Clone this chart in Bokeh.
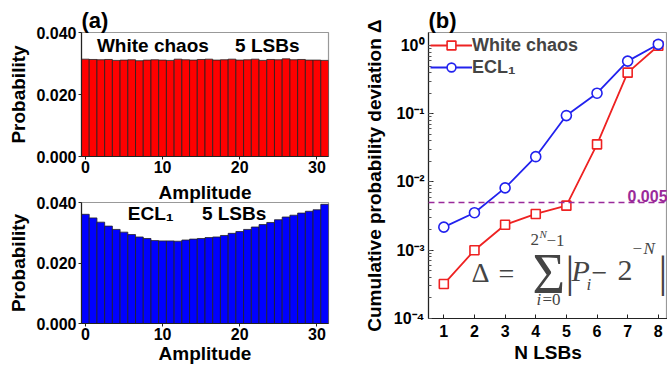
from bokeh.plotting import figure
from bokeh.layouts import row, column
from bokeh.models import (Range1d, FixedTicker, LogTicker, CustomJSTickFormatter, Span,
                          Label, Legend, LegendItem, NumeralTickFormatter)
from bokeh.embed import file_html
from bokeh.resources import INLINE
import math

# ---------------- data ----------------
amplitude = list(range(32))
white_prob = [0.0314, 0.0313, 0.0312, 0.0313, 0.0310, 0.0311, 0.0312, 0.0309,
              0.0311, 0.0312, 0.0311, 0.0310, 0.0314, 0.0312, 0.0311, 0.0313,
              0.0314, 0.0311, 0.0312, 0.0314, 0.0311, 0.0312, 0.0314, 0.0310,
              0.0313, 0.0312, 0.0315, 0.0312, 0.0313, 0.0311, 0.0311, 0.0310]
ecl_prob = [0.0361, 0.0349, 0.0335, 0.0322, 0.0311, 0.0302, 0.0294, 0.0286,
            0.0281, 0.0274, 0.0273, 0.0273, 0.0272, 0.0276, 0.0279, 0.0281,
            0.0284, 0.0286, 0.0291, 0.0298, 0.0304, 0.0311, 0.0319, 0.0327,
            0.0334, 0.0343, 0.0352, 0.0358, 0.0365, 0.0371, 0.0376, 0.0394]
prob_ticks = [0.0, 0.02, 0.04]
amp_ticks = [0, 10, 20, 30]

n_lsbs = [1, 2, 3, 4, 5, 6, 7, 8]
white_dev = [3.2e-4, 1.0e-3, 2.36e-3, 3.4e-3, 4.5e-3, 0.0356, 0.40, 0.99]
ecl_dev = [2.18e-3, 3.55e-3, 8.2e-3, 0.0235, 0.094, 0.20, 0.59, 1.04]
threshold = 0.005

FONT = "Liberation Sans"
SERIF = "Liberation Serif"
RED = "#ff0000"
BLUE = "#0000ff"
LRED = "#ee2222"
LBLUE = "#2222ee"
PURPLE = "#9a2a9a"


def style_axes(p):
    for ax in (p.xaxis[0], p.yaxis[0]):
        ax.major_label_text_font = FONT
        ax.major_label_text_font_style = "bold"
        ax.major_label_text_font_size = "16px"
        ax.major_label_text_color = "black"
        ax.axis_label_text_font = FONT
        ax.axis_label_text_font_style = "bold"
        ax.axis_label_text_font_size = "19px"
        ax.axis_label_text_color = "black"
        ax.axis_line_color = "#222222"
        ax.axis_line_width = 1.2
        ax.major_tick_line_color = "#222222"
    p.xgrid.visible = False
    p.ygrid.visible = False
    p.outline_line_color = "#999999"
    p.outline_line_width = 1.2


def style_title(p, text, size, align):
    p.title.text = text
    p.title.text_font = FONT
    p.title.text_font_style = "bold"
    p.title.text_font_size = size
    p.title.text_color = "black"
    p.title.align = align
    p.title.standoff = 0


def left_panel(values, color, h, bt, bb, xlabel):
    p = figure(width=338, height=h, output_backend="svg", toolbar_location=None,
               x_range=Range1d(-0.5, 31.5), y_range=Range1d(0, 0.04),
               min_border_left=81, min_border_right=10, min_border_top=bt,
               min_border_bottom=bb)
    p.vbar(x=amplitude, top=values, width=1.0, bottom=0, fill_color=color,
           line_color="#222222", line_width=0.8)
    style_axes(p)
    p.xaxis.ticker = FixedTicker(ticks=amp_ticks)
    p.yaxis.ticker = FixedTicker(ticks=prob_ticks)
    p.yaxis.formatter = NumeralTickFormatter(format="0.000")
    p.xaxis.minor_tick_line_color = None
    p.yaxis.minor_tick_line_color = None
    p.xaxis.major_tick_out = 3
    p.xaxis.major_tick_in = 0
    p.yaxis.major_tick_out = 3
    p.yaxis.major_tick_in = 0
    p.xaxis.major_label_standoff = 1
    p.yaxis.major_label_standoff = 2
    p.xaxis.axis_label_standoff = 0
    p.yaxis.axis_label_standoff = 4
    if xlabel:
        p.xaxis.axis_label = xlabel
    p.yaxis.axis_label = "Probability"
    return p


p1 = left_panel(white_prob, RED, 179, 32, 23, None)
style_title(p1, "(a)", "22px", "left")
p2 = left_panel(ecl_prob, BLUE, 187, 20, 43, "Amplitude")
# x-axis label of the upper histogram, drawn in the gap between the two panels
style_title(p2, "Amplitude", "19px", "center")
p2.title.offset = 0


def lab(p, x, y, text, size="19px", font=FONT, style="bold", color="black",
        baseline="middle"):
    p.add_layout(Label(x=x, y=y, text=text, text_font=font, text_font_style=style,
                       text_font_size=size, text_color=color, text_align="left",
                       text_baseline=baseline))


# panel text (a)
lab(p1, 1.5, 0.0358, "White chaos")
lab(p1, 19.4, 0.0358, "5 LSBs")
lab(p2, 5.5, 0.0362, "ECL\u2081")
lab(p2, 15.1, 0.0362, "5 LSBs")

# ---------------- panel (b) ----------------
X0, X1 = 0.5, 8.3
Y0, Y1 = 1e-4, 1.55
p3 = figure(width=329, height=366, output_backend="svg", toolbar_location=None,
            x_range=Range1d(X0, X1), y_range=Range1d(Y0, Y1), y_axis_type="log",
            min_border_left=90, min_border_right=0, min_border_top=32,
            min_border_bottom=48)
style_axes(p3)
style_title(p3, "(b)", "22px", "left")

p3.xaxis.ticker = FixedTicker(ticks=n_lsbs)
p3.xaxis.minor_tick_line_color = None
p3.xaxis.major_tick_in = 4
p3.xaxis.major_tick_out = 0
p3.xaxis.major_label_standoff = 6
p3.xaxis.axis_label_standoff = 2
p3.xaxis.axis_label = "N LSBs"
p3.yaxis.ticker = LogTicker(num_minor_ticks=10)
p3.yaxis.formatter = CustomJSTickFormatter(code="""
const sup = {'-':'\u207b','0':'\u2070','1':'\u00b9','2':'\u00b2','3':'\u00b3','4':'\u2074','5':'\u2075'};
const e = Math.round(Math.log10(tick));
return '10' + String(e).split('').map(c => sup[c]).join('');
""")
p3.yaxis.major_tick_in = 5
p3.yaxis.major_tick_out = 0
p3.yaxis.minor_tick_in = 3
p3.yaxis.minor_tick_out = 0
p3.yaxis.minor_tick_line_color = "#555555"
p3.yaxis.major_label_standoff = 4
p3.yaxis.axis_label_standoff = 6
p3.yaxis.axis_label = "Cumulative probability deviation \u0394"

p3.add_layout(Span(location=threshold, dimension="width", line_color=PURPLE,
                   line_dash="6 4", line_width=1.5))

lw = p3.line(n_lsbs, white_dev, line_color=LRED, line_width=1.8)
sw = p3.scatter(n_lsbs, white_dev, marker="square", size=9, fill_color="white",
                line_color=LRED, line_width=1.6)
le = p3.line(n_lsbs, ecl_dev, line_color=LBLUE, line_width=1.8)
se = p3.scatter(n_lsbs, ecl_dev, marker="circle", size=10, fill_color="white",
                line_color=LBLUE, line_width=1.6)

legend = Legend(items=[LegendItem(label="White chaos", renderers=[lw, sw]),
                       LegendItem(label="ECL\u2081", renderers=[le, se])],
                location="top_left", margin=2, padding=0, spacing=0,
                glyph_width=42, glyph_height=22, label_height=22, label_standoff=0,
                label_text_font=FONT, label_text_font_style="bold",
                label_text_font_size="18px", border_line_color=None,
                background_fill_alpha=0)
p3.add_layout(legend)

# pixel helpers for annotation placement in panel (b) (frame 428..667 x 32..318)
FL, FW, FT, FH = 428.0, 239.0, 32.0, 286.0


def xd(px):
    return X0 + (px - FL) / FW * (X1 - X0)


def yd(py):
    lt, lb = math.log10(Y1), math.log10(Y0)
    return 10 ** (lt - (py - FT) / FH * (lt - lb))


lab(p3, xd(627), yd(195), "0.005", size="16px", color=PURPLE)

G = "#444444"


def ftxt(px, py, text, size, style="normal"):
    lab(p3, xd(px), yd(py), text, size=size, font=SERIF, style=style, color=G)


ftxt(471, 272, "\u0394", "28px")
ftxt(498, 273, "=", "28px")
ftxt(532, 273, "\u03a3", "56px")
ftxt(530, 239, "2", "17px")
ftxt(539, 233, "N", "11px", "italic")
ftxt(546, 240, "\u22121", "17px")
ftxt(536, 299, "i", "17px", "italic")
ftxt(542, 299, "=0", "17px")
ftxt(565, 272, "|", "44px")
ftxt(571, 270, "P", "30px", "italic")
ftxt(586, 284, "i", "17px", "italic")
ftxt(591, 272, "\u2212", "28px")
ftxt(617, 270, "2", "30px")
ftxt(632, 248, "\u2212", "17px")
ftxt(643, 248, "N", "17px", "italic")
ftxt(658, 272, "|", "44px")

layout = row(column(p1, p2), p3)
open("out.html", "w").write(file_html(layout, INLINE))
